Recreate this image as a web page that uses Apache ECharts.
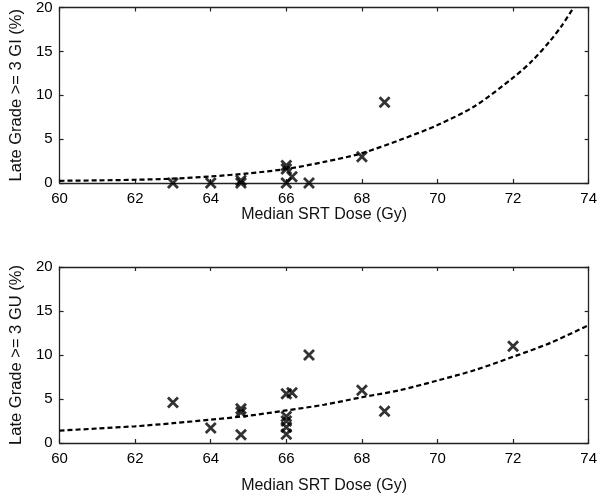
<!DOCTYPE html>
<html>
<head>
<meta charset="utf-8">
<script src="https://cdn.jsdelivr.net/npm/echarts@6/dist/echarts.min.js"></script>
<style>
html,body{margin:0;padding:0;background:#fff;}
#chart{width:600px;height:496px;}
</style>
</head>
<body>
<div id="chart"></div>
<script>
// ---- Data ----
var xTitle = 'Median SRT Dose (Gy)';
var yTitleGI = 'Late Grade >= 3 GI (%)';
var yTitleGU = 'Late Grade >= 3 GU (%)';

// Top panel: late grade >= 3 GI
var giDose = [63, 64, 64.8, 64.8, 66, 66, 66, 66.15, 66.6, 68, 68.6];
var giRate = [0, 0, 0.3, 0, 2.0, 1.6, 0, 0.7, 0, 3.0, 9.2];
var giFitDose = [60, 61, 62, 63, 64, 65, 66, 67, 68, 69, 70, 71, 72, 72.5, 73, 73.3, 73.6];
var giFitRate = [0.25, 0.3, 0.37, 0.5, 0.75, 1.1, 1.6, 2.4, 3.4, 4.9, 6.6, 8.8, 12, 13.9, 16.3, 18, 20];

// Bottom panel: late grade >= 3 GU
var guDose = [63, 64, 64.8, 64.8, 64.8, 66, 66.15, 66, 66, 66, 66, 66.6, 68, 68.6, 72];
var guRate = [4.6, 1.7, 3.9, 3.5, 0.95, 5.6, 5.7, 3.0, 2.5, 1.8, 1.0, 10.0, 6.0, 3.6, 11.0];
var guFitDose = [60, 61, 62, 63, 64, 65, 66, 67, 68, 69, 70, 71, 72, 73, 74];
var guFitRate = [1.4, 1.65, 1.9, 2.25, 2.65, 3.1, 3.7, 4.35, 5.2, 6.0, 7.1, 8.3, 9.8, 11.4, 13.4];

// ---- Build ----
function pairs(xs, ys) { return xs.map(function (x, i) { return [x, ys[i]]; }); }

var FONT = '"Liberation Sans", Arial, Helvetica, sans-serif';
var lineColor = '#222';
var tickLen = 4;

function xAx(grid, pos, showLabels, nameGap) {
  var a = {
    type: 'value', gridIndex: grid, position: pos, min: 60, max: 74, interval: 2,
    axisLine: { show: true, onZero: false, lineStyle: { color: lineColor, width: 1.3 } },
    axisTick: { show: true, inside: true, length: tickLen, lineStyle: { color: lineColor, width: 1.2 } },
    axisLabel: { show: showLabels, color: '#000', fontSize: 15, fontFamily: FONT, margin: 8 },
    splitLine: { show: false }
  };
  if (showLabels) {
    a.name = xTitle; a.nameLocation = 'middle'; a.nameGap = nameGap;
    a.nameTextStyle = { color: '#111', fontSize: 16, fontFamily: FONT };
  }
  return a;
}
function yAx(grid, pos, showLabels, title) {
  var a = {
    type: 'value', gridIndex: grid, position: pos, min: 0, max: 20, interval: 5,
    axisLine: { show: true, onZero: false, lineStyle: { color: lineColor, width: 1.3 } },
    axisTick: { show: true, inside: true, length: tickLen, lineStyle: { color: lineColor, width: 1.2 } },
    axisLabel: { show: showLabels, color: '#000', fontSize: 15, fontFamily: FONT, margin: 7 },
    splitLine: { show: false }
  };
  if (showLabels) {
    a.name = title; a.nameLocation = 'middle'; a.nameGap = 33; a.nameRotate = 90;
    a.nameTextStyle = { color: '#111', fontSize: 16.5, fontFamily: FONT };
  }
  return a;
}

var xMark = 'path://M0,0L10,10M10,0L0,10';
function scatter(xi, yi, data) {
  return {
    type: 'scatter', xAxisIndex: xi, yAxisIndex: yi, data: data, clip: false,
    symbol: xMark, symbolSize: 10,
    itemStyle: { color: 'rgba(0,0,0,0)', borderColor: '#000', borderWidth: 2.8 },
    silent: true, z: 3
  };
}
function fit(xi, yi, data) {
  return {
    type: 'line', xAxisIndex: xi, yAxisIndex: yi, data: data, smooth: 0.3,
    showSymbol: false, symbol: 'none',
    lineStyle: { color: '#000', width: 2.2, type: [5, 3] },
    silent: true, z: 2
  };
}

var option = {
  animation: false,
  backgroundColor: '#fff',
  grid: [
    { left: 50, top: 7, width: 543, height: 176 },
    { left: 50, top: 267, width: 543, height: 176 }
  ],
  xAxis: [
    xAx(0, 'bottom', true, 19),
    xAx(0, 'top', false),
    xAx(1, 'bottom', true, 35),
    xAx(1, 'top', false)
  ],
  yAxis: [
    yAx(0, 'left', true, yTitleGI),
    yAx(0, 'right', false),
    yAx(1, 'left', true, yTitleGU),
    yAx(1, 'right', false)
  ],
  series: [
    fit(0, 0, pairs(giFitDose, giFitRate)),
    scatter(0, 0, pairs(giDose, giRate)),
    fit(2, 2, pairs(guFitDose, guFitRate)),
    scatter(2, 2, pairs(guDose, guRate))
  ]
};

var chart = echarts.init(document.getElementById('chart'), null, { renderer: 'canvas' });
chart.setOption(option);
</script>
</body>
</html>
